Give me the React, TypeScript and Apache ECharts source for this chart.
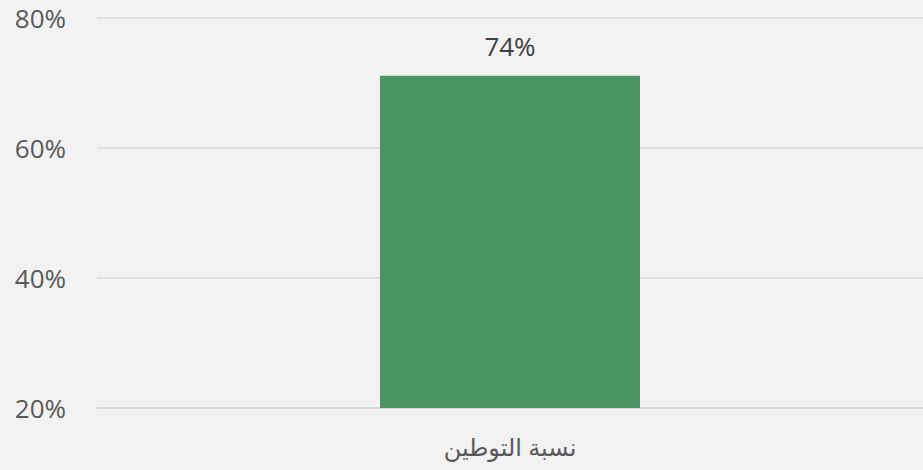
import React, { useEffect, useRef } from "react";
import * as echarts from "echarts";

const categories = ["نسبة التوطين"];
const barValues = [71.1];
const barLabels = ["74%"];
const yTicks = { min: 20, max: 80, interval: 20 };

export default function App() {
  const ref = useRef<HTMLDivElement>(null);
  useEffect(() => {
    if (!ref.current) return;
    const chart = echarts.init(ref.current, undefined, { renderer: "svg" });
    chart.setOption({
      animation: false,
      backgroundColor: "#f2f2f2",
      grid: { left: 97, right: 0, top: 18, bottom: 62 },
      xAxis: {
        type: "category",
        data: categories,
        axisLine: { show: true, lineStyle: { color: "#d9d9d9", width: 1.5 } },
        axisTick: { show: false },
        axisLabel: {
          color: "#595959",
          fontSize: 24,
          margin: 26,
          fontFamily: "'Open Sans', 'DejaVu Sans', sans-serif",
        },
      },
      yAxis: {
        type: "value",
        min: yTicks.min,
        max: yTicks.max,
        interval: yTicks.interval,
        axisLine: { show: false },
        axisTick: { show: false },
        splitLine: { lineStyle: { color: "#d9d9d9", width: 1.5 } },
        axisLabel: {
          color: "#595959",
          fontSize: 26,
          margin: 31,
          fontFamily: "'Open Sans', sans-serif",
          formatter: (v: number) => `${v}%`,
        },
      },
      series: [
        {
          type: "bar",
          data: barValues,
          barWidth: 260,
          itemStyle: { color: "#4a9462" },
          label: {
            show: true,
            position: "top",
            distance: 17,
            color: "#404040",
            fontSize: 26,
            fontFamily: "'Open Sans', sans-serif",
            formatter: (p: any) => barLabels[p.dataIndex],
          },
        },
      ],
    });
    return () => chart.dispose();
  }, []);
  return (
    <div
      ref={ref}
      style={{ position: "fixed", left: 0, top: 0, width: 923, height: 470 }}
    />
  );
}
